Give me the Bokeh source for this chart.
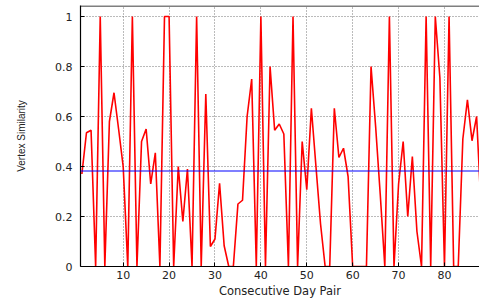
from bokeh.plotting import figure
from bokeh.models import Range1d, FixedTicker, Span
from bokeh.embed import file_html
from bokeh.resources import INLINE

day_pair = list(range(1, 89))
similarity = [
    0.37, 0.535, 0.545, 0.0, 1.0, 0.0, 0.58, 0.695, 0.55, 0.40,
    0.0, 1.0, 0.0, 0.50, 0.55, 0.33, 0.455, 0.0, 1.0, 1.0,
    0.0, 0.40, 0.18, 0.39, 0.0, 1.0, 0.0, 0.69, 0.08, 0.11,
    0.333, 0.083, 0.0, 0.0, 0.25, 0.265, 0.60, 0.75, 0.0, 1.0,
    0.0, 0.80, 0.545, 0.57, 0.53, 0.0, 1.0, 0.0, 0.50, 0.307,
    0.633, 0.40, 0.17, 0.0, 0.0, 0.633, 0.436, 0.473, 0.36, 0.0,
    0.0, 0.0, 0.0, 0.80, 0.56, 0.29, 0.0, 1.0, 0.0, 0.33,
    0.50, 0.20, 0.44, 0.14, 0.0, 1.0, 0.0, 1.0, 0.755, 0.0,
    1.0, 0.0, 0.0, 0.51, 0.667, 0.503, 0.60, 0.22,
]
mean_similarity = 0.382
x_ticks = [10, 20, 30, 40, 50, 60, 70, 80]
y_ticks = [0, 0.2, 0.4, 0.6, 0.8, 1.0]
y_tick_labels = {0: "0", 0.2: "0.2", 0.4: "0.4", 0.6: "0.6", 0.8: "0.8", 1.0: "1"}

p = figure(width=479, height=302, output_backend="svg", toolbar_location=None,
           x_range=Range1d(0.70, 87.63), y_range=Range1d(0, 1.044),
           min_border_left=80, min_border_right=0, min_border_top=5, min_border_bottom=36)

p.line(day_pair, similarity, line_color="#ff0000", line_width=1.6)
p.add_layout(Span(location=mean_similarity, dimension="width", line_color="#0000ff", line_width=1.2))
p.add_layout(Span(location=1.042, dimension="width", line_color="black", line_width=1.2))

p.outline_line_color = None
p.background_fill_color = "white"
p.border_fill_color = "white"

for g in (p.xgrid, p.ygrid):
    g.grid_line_color = "#777777"
    g.grid_line_dash = "1 2"
    g.grid_line_width = 1
p.xgrid.ticker = FixedTicker(ticks=x_ticks)
p.ygrid.ticker = FixedTicker(ticks=y_ticks)

p.xaxis.ticker = FixedTicker(ticks=x_ticks)
p.yaxis.ticker = FixedTicker(ticks=y_ticks)
p.yaxis.major_label_overrides = y_tick_labels

for ax in (p.xaxis, p.yaxis):
    ax.axis_line_color = "black"
    ax.axis_line_width = 1.2
    ax.major_tick_in = 4
    ax.major_tick_out = 0
    ax.minor_tick_in = 0
    ax.minor_tick_out = 0
    ax.major_tick_line_color = "black"
    ax.major_label_text_font = "DejaVu Sans"
    ax.major_label_text_font_size = "11px"
    ax.major_label_text_color = "#222222"

p.xaxis.major_label_standoff = 4
p.yaxis.major_label_standoff = 8

p.xaxis.axis_label = "Consecutive Day Pair"
p.xaxis.axis_label_text_font = "DejaVu Sans"
p.xaxis.axis_label_text_font_size = "11.5px"
p.xaxis.axis_label_text_font_style = "normal"
p.xaxis.axis_label_text_color = "#222222"
p.xaxis.axis_label_standoff = 2

p.yaxis.axis_label = "Vertex Similarity"
p.yaxis.axis_label_text_font = "Liberation Sans"
p.yaxis.axis_label_text_font_size = "10px"
p.yaxis.axis_label_text_font_style = "normal"
p.yaxis.axis_label_text_color = "#222222"
p.yaxis.axis_label_standoff = 25

open("out.html", "w").write(file_html(p, INLINE))
